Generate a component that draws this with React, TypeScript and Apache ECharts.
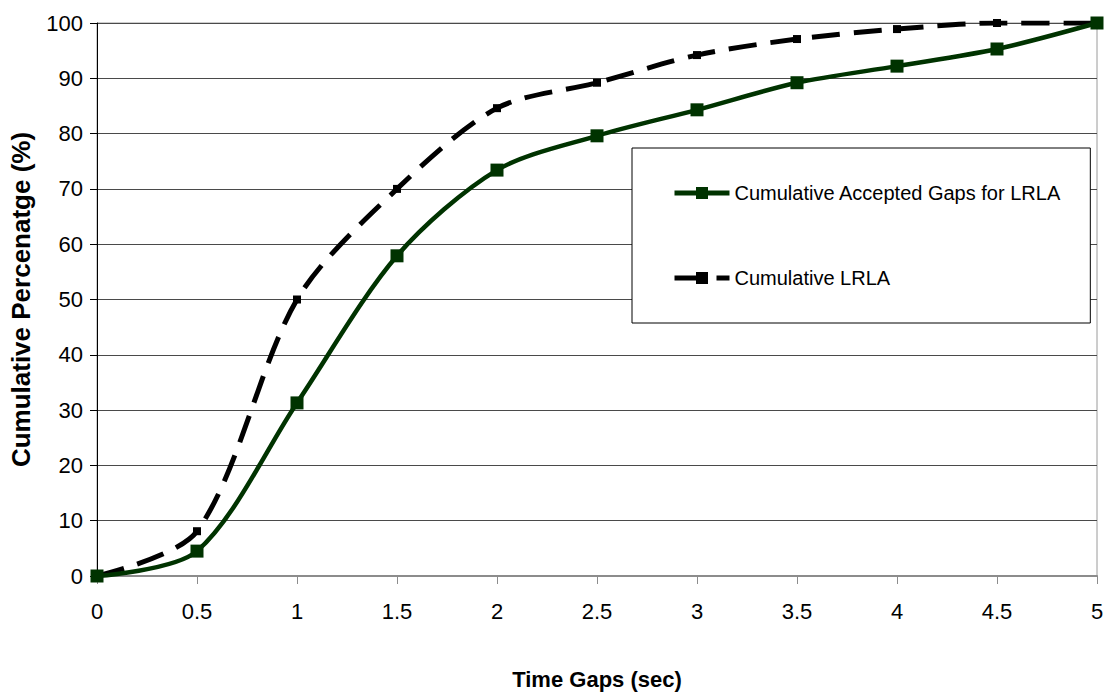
import React, { useEffect, useRef } from "react";
import * as echarts from "echarts";

// Time gap values (sec) on the horizontal axis
const timeGaps = [0, 0.5, 1, 1.5, 2, 2.5, 3, 3.5, 4, 4.5, 5];

// Cumulative percentages for each time gap
const acceptedGapsLRLA = [0, 4.5, 31.3, 57.9, 73.4, 79.6, 84.3, 89.2, 92.2, 95.3, 100];
const cumulativeLRLA = [0, 8.1, 50, 70, 84.6, 89.2, 94.2, 97.1, 98.9, 100, 100];

const seriesNames = ["Cumulative Accepted Gaps for LRLA", "Cumulative LRLA"];

const font = "'Liberation Sans', Arial, sans-serif";

export default function App() {
  const ref = useRef<HTMLDivElement>(null);

  useEffect(() => {
    if (!ref.current) return;
    const chart = echarts.init(ref.current, undefined, { renderer: "svg" });
    const pair = (ys: number[]) => timeGaps.map((x, i) => [x, ys[i]]);

    chart.setOption({
      animation: false,
      backgroundColor: "#ffffff",
      grid: {
        left: 97,
        right: 10,
        top: 23,
        bottom: 120,
        show: true,
        borderColor: "#9a9a9a",
        borderWidth: 1,
      },
      legend: {
        data: seriesNames,
        orient: "vertical",
        left: 632,
        top: 148,
        padding: [35, 29, 35, 40],
        itemGap: 65,
        itemWidth: 55,
        itemHeight: 15,
        backgroundColor: "#ffffff",
        borderColor: "#000000",
        borderWidth: 1,
        lineStyle: { width: 5 },
        textStyle: {
          fontFamily: font,
          fontSize: 20,
          lineHeight: 20,
          color: "#000000",
        },
      },
      xAxis: {
        type: "value",
        min: 0,
        max: 5,
        interval: 0.5,
        name: "Time Gaps (sec)",
        nameLocation: "middle",
        nameGap: 92,
        nameTextStyle: {
          fontFamily: font,
          fontWeight: "bold",
          fontSize: 22,
          color: "#000000",
        },
        axisLine: { show: true, lineStyle: { color: "#8c8c8c", width: 2 } },
        axisTick: { show: true, length: 8, lineStyle: { color: "#8c8c8c", width: 1 } },
        axisLabel: {
          margin: 24,
          fontFamily: font,
          fontSize: 22,
          color: "#000000",
        },
        splitLine: { show: false },
      },
      yAxis: {
        type: "value",
        min: 0,
        max: 100,
        interval: 10,
        name: "Cumulative Percenatge (%)",
        nameLocation: "middle",
        nameGap: 63,
        nameTextStyle: {
          fontFamily: font,
          fontWeight: "bold",
          fontSize: 26,
          color: "#000000",
        },
        axisLine: { show: true, lineStyle: { color: "#000000", width: 1 } },
        axisTick: { show: true, length: 7, lineStyle: { color: "#000000", width: 1 } },
        axisLabel: {
          margin: 14,
          fontFamily: font,
          fontSize: 22,
          color: "#000000",
        },
        splitLine: { show: true, lineStyle: { color: "#4a4a4a", width: 1 } },
      },
      series: [
        {
          name: seriesNames[0],
          type: "line",
          data: pair(acceptedGapsLRLA),
          smooth: 0.3,
          z: 3,
          symbol: "rect",
          symbolSize: 13,
          lineStyle: { color: "#003300", width: 4.5 },
          itemStyle: { color: "#003300", borderWidth: 0 },
        },
        {
          name: seriesNames[1],
          type: "line",
          data: pair(cumulativeLRLA),
          smooth: 0.3,
          z: 2,
          symbol: "rect",
          symbolSize: 8,
          lineStyle: { color: "#000000", width: 5, type: [28, 14], cap: "butt" },
          itemStyle: { color: "#000000", borderWidth: 0 },
        },
      ],
    });

    return () => chart.dispose();
  }, []);

  return (
    <div
      ref={ref}
      style={{ position: "fixed", left: 0, top: 0, width: 1107, height: 696 }}
    />
  );
}
